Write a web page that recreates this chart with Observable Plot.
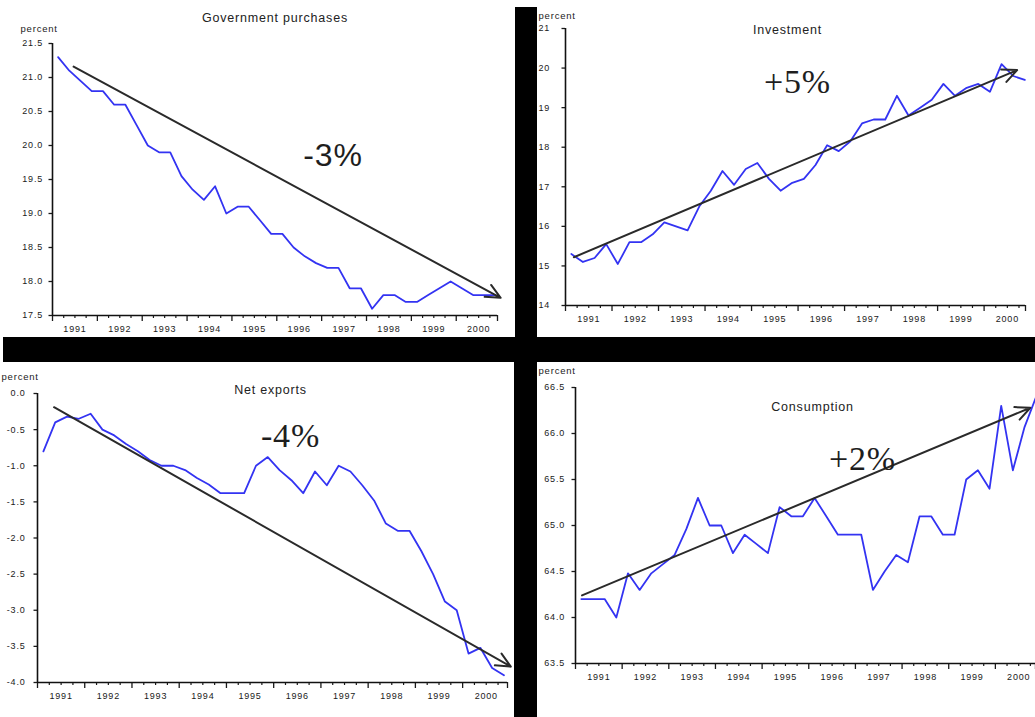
<!DOCTYPE html>
<html>
<head>
<meta charset="utf-8">
<script src="https://cdn.jsdelivr.net/npm/d3@7"></script>
<script src="https://cdn.jsdelivr.net/npm/@observablehq/plot@0.6"></script>
<style>
  html, body { margin: 0; padding: 0; background: #fff; }
  #wrap { position: relative; width: 1035px; height: 717px; overflow: hidden; background: #fff; }
  .bar { position: absolute; background: #000; z-index: 2; }
  .panel { position: absolute; z-index: 1; }
  .panel svg text { letter-spacing: 0.8px; }
  .panel svg g[aria-label="note"] text { letter-spacing: 0; }
  .panel svg g[aria-label="percent"] text { letter-spacing: 1.2px; }
</style>
</head>
<body>
<div id="wrap">
  <div class="bar" style="left:515px;top:7px;width:22px;height:331px"></div>
  <div class="bar" style="left:3px;top:337px;width:1032px;height:25px"></div>
  <div class="bar" style="left:514px;top:361px;width:23px;height:356px"></div>
</div>
<script>
// ---------- data ----------
const years = [1991, 1992, 1993, 1994, 1995, 1996, 1997, 1998, 1999, 2000];
const titles = ["Government purchases", "Investment", "Net exports", "Consumption"];
const notes = ["-3%", "+5%", "-4%", "+2%"];
const unitLabel = "percent";

// quarterly shares of GDP, 1991Q1 – 2000Q4
const govPurchases = [21.3, 21.1, 20.95, 20.8, 20.8, 20.6, 20.6, 20.3, 20.0, 19.9,
  19.9, 19.55, 19.35, 19.2, 19.4, 19.0, 19.1, 19.1, 18.9, 18.7,
  18.7, 18.5, 18.37, 18.27, 18.2, 18.2, 17.9, 17.9, 17.6, 17.8,
  17.8, 17.7, 17.7, 17.8, 17.9, 18.0, 17.9, 17.8, 17.8, 17.8];
const investment = [15.3, 15.1, 15.2, 15.55, 15.05, 15.6, 15.6, 15.8, 16.1, 16.0,
  15.9, 16.5, 16.9, 17.4, 17.05, 17.45, 17.6, 17.2, 16.9, 17.1,
  17.2, 17.55, 18.05, 17.9, 18.15, 18.6, 18.7, 18.7, 19.3, 18.8,
  19.0, 19.2, 19.6, 19.3, 19.5, 19.6, 19.4, 20.1, 19.8, 19.7];
const netExports = [-0.8, -0.4, -0.32, -0.35, -0.28, -0.5, -0.58, -0.7, -0.8, -0.92,
  -1.0, -1.0, -1.06, -1.17, -1.26, -1.38, -1.38, -1.38, -1.0, -0.88,
  -1.06, -1.2, -1.38, -1.08, -1.27, -1.0, -1.08, -1.27, -1.48, -1.8,
  -1.9, -1.9, -2.18, -2.5, -2.88, -3.0, -3.6, -3.52, -3.8, -3.9];
const consumption = [64.2, 64.2, 64.2, 64.0, 64.48, 64.3, 64.48, 64.58, 64.68, 64.96,
  65.3, 65.0, 65.0, 64.7, 64.9, 64.8, 64.7, 65.2, 65.1, 65.1,
  65.3, 65.1, 64.9, 64.9, 64.9, 64.3, 64.5, 64.68, 64.6, 65.1,
  65.1, 64.9, 64.9, 65.5, 65.6, 65.4, 66.3, 65.6, 66.07, 66.4];

// y-axis tick values
const govTicks = [17.5, 18.0, 18.5, 19.0, 19.5, 20.0, 20.5, 21.0, 21.5];
const invTicks = [14, 15, 16, 17, 18, 19, 20, 21];
const netTicks = [-4.0, -3.5, -3.0, -2.5, -2.0, -1.5, -1.0, -0.5, 0.0];
const consTicks = [63.5, 64.0, 64.5, 65.0, 65.5, 66.0, 66.5];

// trend arrows: [start, end] in (year, percent)
const govTrendX = [1991.47, 2000.99], govTrendY = [21.16, 17.76];
const invTrendX = [1991.18, 2000.71], invTrendY = [15.22, 19.95];
const netTrendX = [1991.35, 2001.02], netTrendY = [-0.19, -3.78];
const consTrendX = [1991.14, 2000.75], consTrendY = [64.24, 66.28];

// ---------- layout ----------
const layouts = [
  {left: 0, top: 0, w: 515, h: 337, mL: 52, mR: 18, mT: 43, mB: 22, xEnd: 2000.92, yPad: 6,
   titleDx: 0, titleDy: -30, pctDx: -32, pctDy: -18, noteDx: 58, noteDy: 100, noteFont: "Liberation Sans, Arial, sans-serif", noteSize: 32},
  {left: 537, top: 0, w: 498, h: 337, mL: 28, mR: 10, mT: 28, mB: 32, xEnd: 2000.89, yPad: 12,
   titleDx: -8, titleDy: -3, pctDx: -27, pctDy: -16, noteDx: 2, noteDy: 40, noteFont: "Liberation Serif, Times New Roman, serif", noteSize: 34},
  {left: 0, top: 361, w: 514, h: 356, mL: 37, mR: 7, mT: 32, mB: 35, xEnd: 2000.95, yPad: 8.5,
   titleDx: -2, titleDy: -8, pctDx: -36, pctDy: -20, noteDx: 18, noteDy: 29, noteFont: "Liberation Serif, Times New Roman, serif", noteSize: 34},
  {left: 537, top: 361, w: 498, h: 356, mL: 38, mR: 0, mT: 26, mB: 54, xEnd: 2000.86, yPad: 7,
   titleDx: 7, titleDy: 15, pctDx: -37, pctDy: -20, noteDx: 57, noteDy: 58, noteFont: "Liberation Serif, Times New Roman, serif", noteSize: 34}
];

const series = [govPurchases, investment, netExports, consumption];
const tickSets = [govTicks, invTicks, netTicks, consTicks];
const tickFormats = [d => d.toFixed(1), d => String(d), d => d.toFixed(1), d => d.toFixed(1)];
const trends = [[govTrendX, govTrendY], [invTrendX, invTrendY], [netTrendX, netTrendY], [consTrendX, consTrendY]];

const quarterBounds = years.flatMap(y => [y + 0.25, y + 0.5, y + 0.75]);
const wrap = document.getElementById("wrap");

series.forEach((values, k) => {
  const L = layouts[k];
  const ticks = tickSets[k];
  const y0 = ticks[0], y1 = ticks[ticks.length - 1];
  const x0 = years[0], x1 = L.xEnd;
  const rows = values.map((v, i) => ({t: x0 + (i + 0.5) / 4, v}));
  const [tx, ty] = trends[k];
  const arrow = [{x1: tx[0], y1: ty[0], x2: tx[1], y2: ty[1]}];
  const sans = "Liberation Sans, Arial, sans-serif";

  const chart = Plot.plot({
    width: L.w, height: L.h,
    marginLeft: L.mL, marginRight: L.mR, marginTop: L.mT, marginBottom: L.mB,
    style: {background: "transparent", overflow: "visible", fontFamily: sans, color: "#1a1a1a"},
    x: {domain: [x0, x1], axis: null},
    y: {domain: [y0, y1], axis: null},
    marks: [
      Plot.axisX({ticks: [...years, x1], tickSize: 6, tickFormat: () => "", strokeWidth: 1.3}),
      Plot.axisX({ticks: quarterBounds.filter(q => q < x1), tickSize: 3, tickFormat: () => "", strokeWidth: 1.2}),
      Plot.axisX({ticks: years.map(y => y + 0.5), tickSize: 0, tickPadding: 10,
        tickFormat: d => String(Math.floor(d)), fontSize: 9}),
      Plot.axisY({ticks, tickSize: 3.5, tickPadding: L.yPad, tickFormat: tickFormats[k], fontSize: 9, strokeWidth: 1.3}),
      Plot.ruleX([x0], {stroke: "#111", strokeWidth: 1.6}),
      Plot.ruleY([y0], {stroke: "#111", strokeWidth: 1.6}),
      Plot.line(rows, {x: "t", y: "v", stroke: "#3333f2", strokeWidth: 1.8}),
      Plot.arrow(arrow, {x1: "x1", y1: "y1", x2: "x2", y2: "y2", stroke: "#2a2a2a",
        strokeWidth: 2, headLength: 12, headAngle: 50}),
      Plot.text([titles[k]], {frameAnchor: "top", dx: L.titleDx, dy: L.titleDy,
        fontSize: 12.5, fill: "#222", ariaLabel: "title"}),
      Plot.text([unitLabel], {frameAnchor: "top-left", textAnchor: "start", dx: L.pctDx, dy: L.pctDy,
        fontSize: 9.5, fill: "#222", ariaLabel: "percent"}),
      Plot.text([notes[k]], {frameAnchor: "top", dx: L.noteDx, dy: L.noteDy,
        fontSize: L.noteSize, fontFamily: L.noteFont, fill: "#1e1e1e", ariaLabel: "note"})
    ]
  });
  const holder = document.createElement("div");
  holder.className = "panel";
  holder.style.left = L.left + "px";
  holder.style.top = L.top + "px";
  holder.style.width = L.w + "px";
  holder.style.height = L.h + "px";
  holder.appendChild(chart);
  wrap.appendChild(holder);
});
</script>
</body>
</html>
